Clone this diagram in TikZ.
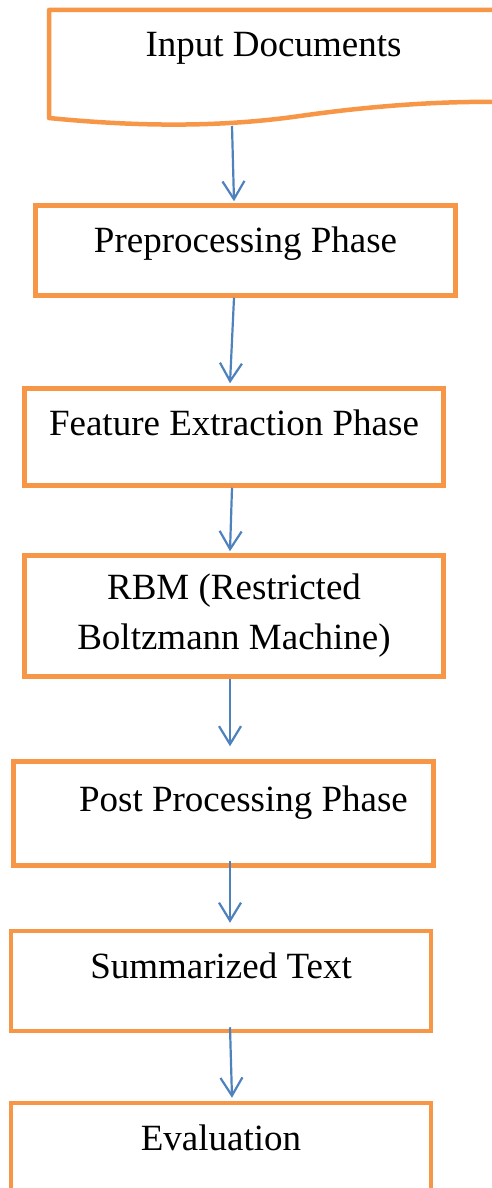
\documentclass[tikz,border=0pt]{standalone}
\usepackage{fontspec}
\setmainfont{Liberation Serif}
\usetikzlibrary{arrows.meta}
\definecolor{boxorange}{HTML}{F79646}
\definecolor{flowblue}{HTML}{4F81BD}

\begin{document}
\begin{tikzpicture}[x=1pt,y=-1pt,
  box/.style={draw=boxorange,line width=4.5pt,minimum width=420pt,inner sep=0pt,
    font=\fontsize{37pt}{50pt}\selectfont},
  lift/.style={text height=20pt,text depth=#1},
  flow/.style={draw=flowblue,line width=2.2pt,-{Straight Barb[length=18pt,width=22pt]}}]
  \useasboundingbox (0,0) rectangle (492,1188);
  \clip (0,0) rectangle (492,1188);
  % document shape, runs past the right edge
  \draw[boxorange,line width=4.5pt,line join=round] (500,10) -- (49,10) -- (49,118)
    .. controls (150,128) and (230,126) .. (300,116)
    .. controls (370,106) and (440,101) .. (500,102);
  \node[font=\fontsize{37pt}{50pt}\selectfont,inner sep=0pt,anchor=base] (doc) at (273.5,57) {Input Documents};
  \coordinate (docbot) at (232,126);
  \node[box,lift=17pt,minimum height=90pt] (pre) at (245.5,250.5) {Preprocessing Phase};
  \node[box,lift=24pt,minimum width=419pt,minimum height=97pt] (feat) at (234,437) {Feature Extraction Phase};
  \node[box,align=center,minimum width=419pt,minimum height=121pt] (rbm) at (234,616) {RBM (Restricted\\Boltzmann Machine)};
  \node[box,lift=25pt,minimum height=104pt] (post) at (223.5,813.5) {\hspace*{40pt}Post Processing Phase};
  \node[box,lift=26pt,minimum height=100pt] (summ) at (221,981) {Summarized Text};
  \node[box,lift=26pt,minimum height=100pt] (eval) at (221,1153) {Evaluation};
  \draw[flow] (docbot) -- ([xshift=-11.5pt,yshift=2pt]pre.north);
  \draw[flow] ([xshift=-11.5pt]pre.south) -- ([xshift=-4pt,yshift=3pt]feat.north);
  \draw[flow] ([xshift=-2pt]feat.south) -- ([xshift=-4pt,yshift=2pt]rbm.north);
  \draw[flow] ([xshift=-4pt]rbm.south) -- ([xshift=6.5pt,yshift=13pt]post.north);
  \draw[flow] ([xshift=6.5pt,yshift=7pt]post.south) -- ([xshift=9pt,yshift=6pt]summ.north);
  \draw[flow] ([xshift=9pt,yshift=6pt]summ.south) -- ([xshift=11pt,yshift=3pt]eval.north);
\end{tikzpicture}
\end{document}
